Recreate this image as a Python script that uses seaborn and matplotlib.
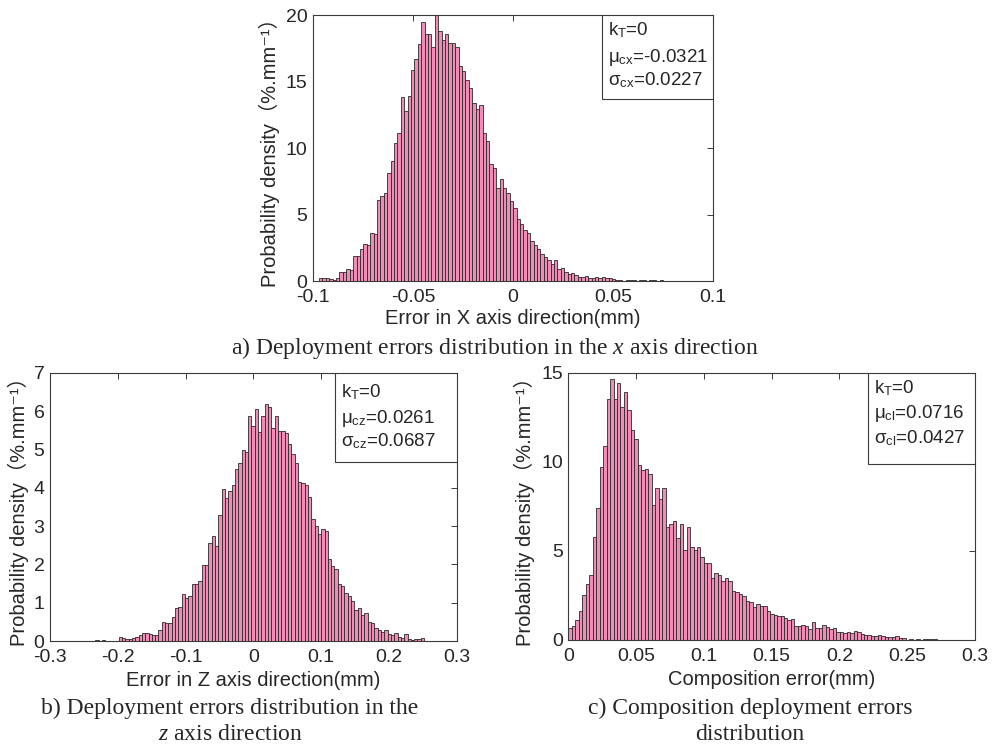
import numpy as np
import pandas as pd
import matplotlib
matplotlib.use("Agg")
import matplotlib.pyplot as plt
from matplotlib.patches import Rectangle
import seaborn as sns

# ----------------------------------------------------------
# Data (density, %.mm^-1)
# ----------------------------------------------------------
x_range = (-0.097, 0.075)
x_density = [0.25, 0.25, 0.2, 0.15, 0.1, 0.25, 0.7, 0.7, 0.9, 0.85,
             1.9, 1.9, 2.4, 2.8, 2.7, 3.6, 3.5, 6.1, 6.4, 6.6,
             8.1, 9.0, 10.4, 11.1, 13.8, 12.8, 13.9, 15.9, 16.7, 17.8,
             19.5, 18.6, 18.6, 17.6, 20.0, 18.8, 18.1, 18.6, 17.9, 17.9,
             17.6, 16.2, 15.8, 15.1, 14.5, 13.4, 12.9, 13.2, 11.1, 10.5,
             8.8, 8.5, 7.0, 7.7, 7.0, 6.6, 6.0, 5.5, 4.7, 4.3,
             3.8, 3.6, 3.0, 2.7, 2.4, 2.0, 1.8, 1.6, 1.3, 1.6,
             0.9, 0.95, 0.7, 0.5, 0.6, 0.45, 0.3, 0.3, 0.35, 0.25,
             0.25, 0.3, 0.2, 0.3, 0.25, 0.25, 0.15, 0.1, 0.05, 0.0,
             0.1, 0.1, 0.05, 0.0, 0.05, 0.05, 0.0, 0.05, 0.05, 0.0, 0.05]

z_range = (-0.233, 0.252)
z_density = [0.03, 0.0, 0.03, 0.0, 0.0, 0.0, 0.0, 0.1, 0.07, 0.06,
             0.05, 0.08, 0.1, 0.16, 0.2, 0.22, 0.18, 0.16, 0.15, 0.29,
             0.5, 0.46, 0.48, 0.63, 0.85, 0.9, 1.24, 1.11, 1.17, 1.5,
             1.5, 1.57, 1.99, 1.99, 2.55, 2.75, 2.48, 3.3, 3.96, 3.74,
             3.92, 4.07, 4.49, 4.64, 5.0, 4.93, 5.87, 5.62, 6.06, 5.45,
             5.87, 6.19, 6.1, 5.55, 5.87, 5.48, 5.48, 5.43, 5.14, 4.88,
             4.66, 4.14, 4.12, 4.07, 3.75, 3.18, 3.0, 2.79, 2.92, 2.88,
             2.14, 1.96, 1.87, 1.48, 1.44, 1.26, 1.18, 1.05, 0.8, 0.85,
             0.68, 0.72, 0.5, 0.46, 0.33, 0.29, 0.24, 0.29, 0.18, 0.16,
             0.2, 0.11, 0.07, 0.18, 0.04, 0.03, 0.04, 0.05, 0.07]

c_range = (0.0, 0.272)
c_density = [0.65, 0.8, 1.1, 1.6, 2.52, 3.12, 3.64, 5.79, 7.38, 9.68,
             10.9, 13.55, 14.65, 13.55, 14.4, 13.1, 13.9, 12.9, 11.8, 11.3,
             9.8, 9.53, 9.57, 9.3, 7.57, 8.5, 7.9, 8.5, 6.36, 6.5,
             6.67, 5.7, 6.5, 5.05, 6.36, 5.23, 5.05, 5.23, 4.67, 4.34,
             4.34, 3.46, 3.78, 3.64, 3.33, 3.46, 3.33, 2.77, 2.67, 2.58,
             2.49, 2.2, 2.11, 1.83, 2.0, 1.89, 1.89, 1.64, 1.46, 1.4,
             1.33, 1.36, 1.21, 1.14, 1.18, 0.8, 0.77, 0.84, 0.8, 0.62,
             0.99, 0.65, 0.65, 0.84, 0.71, 0.62, 0.65, 0.47, 0.43, 0.39,
             0.43, 0.39, 0.52, 0.47, 0.34, 0.28, 0.28, 0.24, 0.21, 0.28,
             0.21, 0.15, 0.17, 0.15, 0.21, 0.09, 0.09, 0.0, 0.06, 0.0,
             0.06, 0.0, 0.06, 0.06, 0.06, 0.06]

x_ticks = [-0.1, -0.05, 0, 0.05, 0.1]
x_ticklabels = ["-0.1", "-0.05", "0", "0.05", "0.1"]
z_ticks = [-0.3, -0.2, -0.1, 0, 0.1, 0.2, 0.3]
z_ticklabels = ["-0.3", "-0.2", "-0.1", "0", "0.1", "0.2", "0.3"]
c_ticks = [0, 0.05, 0.1, 0.15, 0.2, 0.25, 0.3]
c_ticklabels = ["0", "0.05", "0.1", "0.15", "0.2", "0.25", "0.3"]

stats_x = ["k$_{\\mathrm{T}}$=0", "μ$_{\\mathrm{cx}}$=-0.0321", "σ$_{\\mathrm{cx}}$=0.0227"]
stats_z = ["k$_{\\mathrm{T}}$=0", "μ$_{\\mathrm{cz}}$=0.0261", "σ$_{\\mathrm{cz}}$=0.0687"]
stats_c = ["k$_{\\mathrm{T}}$=0", "μ$_{\\mathrm{cl}}$=0.0716", "σ$_{\\mathrm{cl}}$=0.0427"]

# ----------------------------------------------------------
# Style
# ----------------------------------------------------------
sns.set_style("white")
plt.rcParams["font.family"] = ["Liberation Sans", "DejaVu Sans", "Noto Sans CJK SC"]
plt.rcParams["mathtext.fontset"] = "custom"
plt.rcParams["mathtext.rm"] = "Liberation Sans"
plt.rcParams["mathtext.it"] = "Liberation Serif:italic"
plt.rcParams["axes.unicode_minus"] = False

BAR = "#f08db6"
EDGE = "#2a2a2a"
SPINE = "#3a3a3a"
YLABEL = "Probability density（%.mm⁻¹）"

fig = plt.figure(figsize=(9.96, 7.47), dpi=100)


def draw_panel(rect, rng, density, ticks, ticklabels, xlim, ylim, yticks,
               xlabel, stats, box, ylab_x, xlab_y):
    ax = fig.add_axes(rect)
    width = (rng[1] - rng[0]) / len(density)
    df = pd.DataFrame({
        "err": rng[0] + width * (np.arange(len(density)) + 0.5),
        "dens": density,
    })
    sns.histplot(data=df, x="err", weights="dens", bins=len(density),
                 binrange=rng, ax=ax, color=BAR, edgecolor=EDGE,
                 linewidth=0.6, alpha=1.0)
    ax.set_xlim(*xlim)
    ax.set_ylim(*ylim)
    ax.set_xticks(ticks)
    ax.set_xticklabels(ticklabels)
    ax.set_yticks(yticks)
    ax.set_yticklabels([str(t) for t in yticks])
    ax.tick_params(direction="in", length=4, width=0.7, color=SPINE,
                   top=True, right=True, labelsize=14)
    ax.tick_params(axis="x", pad=6)
    ax.tick_params(axis="y", pad=4)
    for s in ax.spines.values():
        s.set_color(SPINE)
        s.set_linewidth(0.8)
    ax.set_xlabel(xlabel, fontsize=14.5, va="center")
    ax.xaxis.set_label_coords(0.5, xlab_y)
    ax.set_ylabel(YLABEL, fontsize=14.5, va="center")
    ax.yaxis.set_label_coords(ylab_x, 0.5)

    # statistics box in the upper-right corner
    x0, y0, ys = box
    ax.add_patch(Rectangle((x0, y0), 1 - x0, 1 - y0, transform=ax.transAxes,
                           facecolor="white", edgecolor=SPINE, linewidth=0.8,
                           zorder=5))
    for line, yy in zip(stats, ys):
        ax.text(x0 + 0.015, yy, line, transform=ax.transAxes, fontsize=13.5,
                va="center", ha="left", zorder=6)
    return ax


draw_panel([0.3143, 0.6238, 0.4016, 0.3561], x_range, x_density, x_ticks,
           x_ticklabels, (-0.1, 0.1), (0, 20), [0, 5, 10, 15, 20],
           "Error in X axis direction(mm)", stats_x,
           (0.7225, 0.684, [0.944, 0.842, 0.756]), -0.108, -0.142)

draw_panel([0.0502, 0.1419, 0.4083, 0.3588], z_range, z_density, z_ticks,
           z_ticklabels, (-0.3, 0.3), (0, 7), [0, 1, 2, 3, 4, 5, 6, 7],
           "Error in Z axis direction(mm)", stats_z,
           (0.7008, 0.669, [0.930, 0.831, 0.744]), -0.078, -0.148)

draw_panel([0.5706, 0.1433, 0.4083, 0.3578], c_range, c_density, c_ticks,
           c_ticklabels, (0, 0.3), (0, 15), [0, 5, 10, 15],
           "Composition error(mm)", stats_c,
           (0.736, 0.658, [0.941, 0.848, 0.755]), -0.108, -0.148)

# captions
cap = dict(family="Liberation Serif", fontsize=17, ha="center", va="center")
fig.text(495 / 996, 1 - 348 / 747,
         "a) Deployment errors distribution in the $x$ axis direction", **cap)
fig.text(230 / 996, 1 - 708 / 747, "b) Deployment errors distribution in the", **cap)
fig.text(230 / 996, 1 - 734 / 747, "$z$ axis direction", **cap)
fig.text(750 / 996, 1 - 708 / 747, "c) Composition deployment errors", **cap)
fig.text(750 / 996, 1 - 734 / 747, "distribution", **cap)

plt.savefig("out.png", dpi=100)
